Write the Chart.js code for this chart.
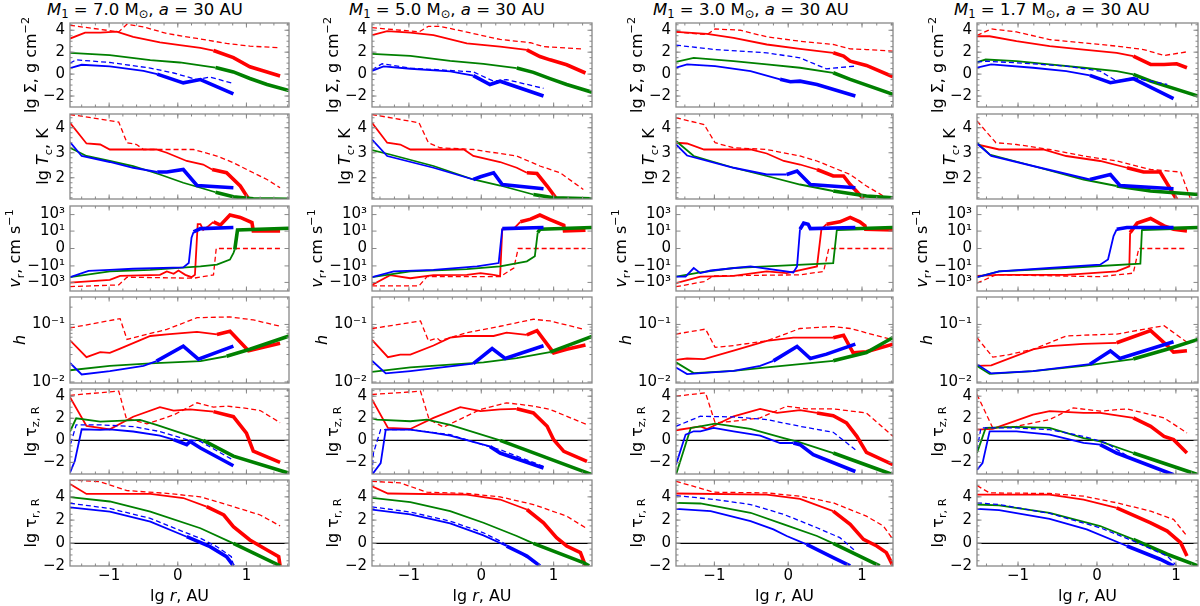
<!DOCTYPE html>
<html lang="en">

<head>
    <meta charset="UTF-8">
    <title>Disc structure, a = 30 AU</title>
    <script src="https://cdn.jsdelivr.net/npm/chart.js"></script>
    <style>
        body { margin: 0; background: #fff; }
        #fig { position: relative; width: 1200px; height: 606px; overflow: hidden; }
        #fig canvas { position: absolute; }
        .ttl {
            position: absolute; top: 1px; white-space: nowrap;
            font-family: 'DejaVu Sans', sans-serif; font-size: 16.5px; line-height: 18px; color: #000;
        }
        .ttl sub { font-size: 70%; vertical-align: -0.22em; line-height: 0; }
    </style>
</head>

<body>
    <div id="fig"></div>

    <script>
        // ---- models (one column each) ----
        const masses = ['7.0', '5.0', '3.0', '1.7'];
        const separation = 30;
        const xMin = [-1.57, -1.51, -1.52, -1.52];
        const xMax = [1.62, 1.53, 1.42, 1.28];

        // lg r where each solid curve turns thick (red per model, blue/green per panel row)
        const thickRed = [0.5, 0.6, 0.5, 0.45];
        const thickBlue = [[-0.3, -0.3, 0.25, -0.3, -0.1, 0.1], [-0.1, -0.1, 0.29, -0.1, 0.1, 0.2], [-0.1, -0.1, 0.16, -0.1, 0, 0.2], [0, 0, 0.25, 0, 0.1, 0.2]];
        const thickGreen = [[0.55, 0.55, 0.85, 0.8, 0.5, 0.7], [0.6, 0.6, 0.78, 0.75, 0.6, 0.7], [0.55, 0.55, 0.66, 0.75, 0.5, 0.6], [0.45, 0.45, 0.57, 0.65, 0.35, 0.5]];

        // tick values and labels
        const xTicks = [-1, 0, 1];
        const sigmaTicks = [-2, 0, 2, 4];
        const tcTicks = [2, 3, 4];
        const vrTicks = [-1000, -10, 0, 10, 1000];
        const vrTickLabels = ['\u221210\u00b3', '\u221210\u00b9', '0', '10\u00b9', '10\u00b3'];
        const hTicks = [0.01, 0.1];
        const hTickLabels = ['10\u207b\u00b2', '10\u207b\u00b9'];
        const tauTicks = [-2, 0, 2, 4];

        // ---- M1 = 7.0 ----
        const m70SigRedDash = [[-1.57, 4.45], [-0.86, 3.85], [-0.74, 4.55], [-0.50, 4.3], [-0.16, 3.7], [0.28, 3.25], [0.71, 2.8], [1.05, 2.55], [1.49, 2.4]];
        const m70SigRed = [[-1.57, 3.24], [-1.35, 3.79], [-1.13, 3.79], [-0.89, 3.88], [-0.65, 3.4], [-0.26, 2.9], [0.03, 2.65], [0.33, 2.4], [0.52, 2.15], [0.81, 1.5], [1.05, 0.67], [1.30, 0.2], [1.49, -0.18]];
        const m70SigGreen = [[-1.57, 1.94], [-0.99, 1.73], [-0.40, 1.27], [0.03, 1.06], [0.55, 0.6], [0.81, 0.2], [1.05, -0.4], [1.30, -0.94], [1.62, -1.5]];
        const m70SigBlueDash = [[-1.57, 1.0], [-1.48, 1.3], [-0.99, 1.06], [-0.40, 0.55], [-0.06, 0.1], [0.28, -0.5], [0.47, -0.27], [0.81, -0.86]];
        const m70SigBlue = [[-1.57, 0.55], [-1.40, 0.85], [-0.99, 0.7], [-0.50, 0.3], [-0.30, 0.0], [0.08, -0.8], [0.33, -0.5], [0.81, -1.8]];
        const m70TcRedDash = [[-1.57, 4.53], [-0.86, 4.23], [-0.74, 3.4], [-0.60, 3.33], [-0.50, 3.13], [0.23, 3.13], [0.57, 2.87], [0.81, 2.6], [1.10, 2.2], [1.30, 1.93], [1.49, 1.6]];
        const m70TcRed = [[-1.57, 4.2], [-1.33, 3.37], [-1.13, 3.33], [-0.99, 3.13], [-0.31, 3.13], [-0.16, 3.0], [0.13, 2.67], [0.37, 2.53], [0.50, 2.33], [0.71, 2.2], [0.91, 1.67], [1.03, 1.16]];
        const m70TcGreen = [[-1.57, 3.2], [-1.33, 2.87], [-0.99, 2.67], [-0.65, 2.47], [-0.26, 2.13], [0.08, 1.8], [0.33, 1.6], [0.55, 1.42], [0.81, 1.24], [1.10, 1.16], [1.62, 1.14]];
        const m70TcBlue = [[-1.57, 3.43], [-1.40, 2.87], [-0.99, 2.63], [-0.65, 2.4], [-0.30, 2.23], [-0.16, 2.23], [0.08, 2.33], [0.28, 1.69], [0.81, 1.6]];
        const m70VrRedDash = [[-1.57, -3200], [-0.86, -2000], [-0.74, -234], [0.23, -310], [0.52, -120], [0.56, 0], [1.49, 0]];
        const m70VrRed = [[-1.57, -1050], [-0.99, -490], [-0.84, -160], [-0.26, -120], [-0.16, -47], [-0.06, -91], [0.01, -36], [0.11, -120], [0.20, -234], [0.25, -120], [0.29, 68], [0.33, 68], [0.37, 14], [0.45, 43], [0.52, 132], [0.62, 52], [0.76, 870], [0.91, 450], [1.08, 110], [1.10, 10.5], [1.49, 10.5]];
        const m70VrGreen = [[-1.57, -234], [-0.99, -47], [-0.40, -30], [0.33, -11.5], [0.57, -7], [0.76, -1.7], [0.81, -0.5], [0.83, -0.1], [0.87, 14], [1.62, 22]];
        const m70VrBlue = [[-1.57, -234], [-1.30, -39], [-0.99, -30], [-0.65, -22], [0.08, -15], [0.16, -4.5], [0.20, 1.6], [0.23, 7.8], [0.33, 20], [0.81, 27]];
        const m70HRedDash = [[-1.57, 0.087], [-0.84, 0.126], [-0.74, 0.055], [-0.55, 0.063], [-0.16, 0.082], [0.28, 0.131], [0.76, 0.135], [1.10, 0.12], [1.49, 0.093]];
        const m70HRed = [[-1.57, 0.053], [-1.33, 0.027], [-1.13, 0.033], [-0.99, 0.032], [-0.84, 0.038], [-0.40, 0.063], [-0.16, 0.067], [0.28, 0.074], [0.57, 0.067], [0.76, 0.076], [1.03, 0.035], [1.49, 0.047]];
        const m70HGreen = [[-1.57, 0.016], [-0.99, 0.019], [-0.40, 0.021], [0.33, 0.023], [0.71, 0.028], [1.05, 0.037], [1.62, 0.063]];
        const m70HBlue = [[-1.57, 0.0215], [-1.40, 0.0135], [-0.99, 0.0155], [-0.50, 0.019], [-0.31, 0.023], [0.08, 0.042], [0.30, 0.025], [0.81, 0.042]];
        const m70TzRedDash = [[-1.57, 4.08], [-0.86, 4.46], [-0.75, 2.0], [-0.45, 1.49], [-0.06, 2.3], [0.28, 3.4], [0.52, 3.0], [0.71, 3.1], [1.00, 2.9], [1.20, 2.7], [1.49, 1.6]];
        const m70TzRed = [[-1.57, 3.9], [-1.33, 1.31], [-0.99, 1.0], [-0.65, 2.14], [-0.26, 3.0], [-0.06, 2.7], [0.18, 2.8], [0.52, 2.6], [0.81, 2.14], [1.00, 0.65], [1.10, -0.98], [1.49, -2.0]];
        const m70TzGreen = [[-1.57, 0.8], [-1.48, 2.0], [-1.13, 1.7], [-0.55, 1.85], [-0.31, 1.4], [0.37, 0.0], [0.81, -1.43], [1.62, -2.98]];
        const m70TzBlueDash = [[-1.56, -0.3], [-1.48, 1.4], [-1.13, 1.4], [-0.65, 1.25], [-0.26, 0.8], [0.13, 0.06], [0.33, -0.1], [0.81, -1.8]];
        const m70TzBlue = [[-1.57, -2.92], [-1.50, -1.88], [-1.40, 1.0], [-1.13, 0.95], [-0.99, 1.0], [-0.65, 0.8], [-0.26, 0.42], [-0.06, 0.06], [0.13, -0.39], [0.18, -0.1], [0.33, -0.7], [0.81, -2.3]];
        const m70TrRedDash = [[-1.57, 5.46], [-1.13, 5.3], [-0.74, 4.54], [-0.16, 4.3], [0.33, 4.0], [0.81, 3.16], [1.20, 2.44], [1.49, 1.5]];
        const m70TrRed = [[-1.57, 5.1], [-1.33, 4.25], [-0.40, 4.25], [0.08, 3.9], [0.42, 3.16], [0.67, 2.44], [0.81, 1.44], [1.05, 0.29], [1.30, -0.57], [1.47, -1.15], [1.49, -1.93]];
        const m70TrGreen = [[-1.57, 3.97], [-0.99, 3.6], [-0.40, 2.73], [0.33, 1.3], [0.81, 0], [1.49, -1.93]];
        const m70TrBlueDash = [[-1.57, 3.45], [-0.99, 3.0], [-0.40, 2.15], [0.08, 1.0], [0.33, 0.43], [0.57, -0.29], [0.78, -1.15], [0.81, -1.93]];
        const m70TrBlue = [[-1.57, 3.1], [-0.99, 2.73], [-0.40, 1.87], [0.13, 0.57], [0.47, -0.29], [0.71, -1.15], [0.81, -1.93]];

        // ---- M1 = 5.0 ----
        const m50SigRedDash = [[-1.51, 4.24], [-0.86, 3.85], [-0.73, 4.36], [-0.57, 4.36], [-0.11, 3.7], [0.26, 3.16], [0.68, 2.86], [0.86, 2.5], [1.41, 2.29]];
        const m50SigRed = [[-1.51, 3.55], [-1.30, 3.91], [-0.98, 3.79], [-0.66, 3.55], [-0.20, 2.8], [0.26, 2.5], [0.63, 2.2], [0.81, 1.6], [0.95, 1.3], [1.18, 0.85], [1.44, 0.1]];
        const m50SigGreen = [[-1.51, 1.84], [-0.98, 1.66], [-0.43, 1.2], [0.03, 0.94], [0.49, 0.55], [0.72, 0.16], [0.95, -0.41], [1.18, -0.95], [1.53, -1.65]];
        const m50SigBlueDash = [[-1.51, 0.4], [-1.37, 0.94], [-0.98, 0.55], [-0.11, 0.2], [0.17, -0.65], [0.35, -0.5], [0.86, -1.3]];
        const m50SigBlue = [[-1.51, 0.3], [-1.35, 0.7], [-0.98, 0.49], [-0.43, 0.25], [-0.11, -0.14], [0.12, -0.95], [0.26, -0.65], [0.86, -2.0]];
        const m50TcRedDash = [[-1.51, 4.53], [-0.86, 4.2], [-0.73, 3.4], [-0.57, 3.2], [-0.11, 3.13], [0.49, 2.87], [0.81, 2.47], [1.09, 2.2], [1.41, 1.53]];
        const m50TcRed = [[-1.51, 4.2], [-1.30, 3.4], [-1.12, 3.33], [-0.98, 3.13], [-0.24, 3.13], [-0.11, 2.87], [0.26, 2.63], [0.49, 2.4], [0.63, 2.2], [0.77, 2.17], [0.91, 1.67], [1.04, 1.16]];
        const m50TcGreen = [[-1.51, 3.11], [-1.26, 2.93], [-0.66, 2.47], [-0.11, 1.93], [0.26, 1.69], [0.72, 1.33], [1.00, 1.2], [1.53, 1.16]];
        const m50TcBlue = [[-1.51, 3.53], [-1.30, 2.87], [-0.66, 2.4], [-0.11, 1.93], [-0.01, 2.04], [0.17, 2.2], [0.29, 1.73], [0.86, 1.56]];
        const m50VrRedDash = [[-1.51, -2600], [-0.86, -2600], [-0.75, -200], [0.26, -200], [0.45, -18], [0.51, 0], [1.44, 0]];
        const m50VrRed = [[-1.51, -2000], [-1.26, -132], [-0.98, -310], [-0.66, -132], [-0.20, -120], [-0.01, -75], [0.17, -120], [0.26, -170], [0.29, 16.6], [0.45, 20], [0.54, 132], [0.68, 280], [0.81, 870], [0.95, 250], [1.14, 50], [1.15, 10.5], [1.44, 13]];
        const m50VrGreen = [[-1.51, -234], [-0.98, -47], [-0.20, -24], [0.26, -11.5], [0.63, -2.8], [0.74, -0.85], [0.78, 6.5], [0.81, 16.6], [1.53, 27]];
        const m50VrBlue = [[-1.51, -234], [-1.21, -47], [-0.66, -30], [-0.06, -11.5], [0.24, -4.5], [0.29, 20], [0.86, 27]];
        const m50HRedDash = [[-1.51, 0.085], [-0.84, 0.115], [-0.73, 0.052], [-0.61, 0.058], [-0.57, 0.052], [-0.20, 0.072], [0.26, 0.093], [0.72, 0.123], [0.95, 0.115], [1.41, 0.083]];
        const m50HRed = [[-1.51, 0.054], [-1.29, 0.027], [-1.12, 0.030], [-0.98, 0.030], [-0.66, 0.043], [-0.43, 0.059], [-0.24, 0.063], [0.17, 0.063], [0.35, 0.072], [0.63, 0.066], [0.77, 0.078], [1.00, 0.032], [1.18, 0.037], [1.44, 0.044]];
        const m50HGreen = [[-1.51, 0.015], [-0.98, 0.018], [-0.43, 0.020], [0.03, 0.022], [0.49, 0.026], [0.95, 0.033], [1.53, 0.062]];
        const m50HBlue = [[-1.51, 0.0234], [-1.32, 0.0141], [-0.98, 0.0155], [-0.43, 0.0186], [-0.11, 0.0209], [0.15, 0.038], [0.33, 0.0257], [0.86, 0.0427]];
        const m50TzRedDash = [[-1.51, 4.15], [-0.84, 4.45], [-0.72, 1.88], [-0.52, 1.2], [-0.01, 2.8], [0.35, 3.4], [0.72, 3.1], [0.95, 2.8], [1.46, 1.42]];
        const m50TzRed = [[-1.51, 3.7], [-1.29, 1.12], [-0.98, 1.03], [-0.66, 2.03], [-0.29, 3.0], [-0.01, 2.64], [0.26, 2.8], [0.49, 2.85], [0.72, 2.48], [0.91, 1.27], [1.00, 0.06], [1.14, -1.0], [1.46, -1.9]];
        const m50TzGreen = [[-1.51, 2.0], [-1.44, 1.88], [-0.98, 1.73], [-0.75, 1.88], [-0.43, 1.4], [0.26, 0], [1.53, -3.1]];
        const m50TzBlueDash = [[-1.51, -2.97], [-1.49, -1.15], [-1.39, 0.97], [-0.98, 0.97], [-0.43, 0.52], [-0.06, -0.24], [0.26, -0.85], [0.86, -2.36]];
        const m50TzBlue = [[-1.51, -3.12], [-1.39, -2.06], [-1.32, 0.97], [-0.98, 0.97], [-0.66, 0.67], [-0.43, 0.42], [-0.06, -0.24], [0.12, -0.55], [0.26, -1.15], [0.86, -2.5]];
        const m50TrRedDash = [[-1.51, 5.34], [-1.12, 5.2], [-0.75, 4.4], [-0.20, 4.29], [0.26, 4.0], [0.72, 3.34], [1.18, 2.34], [1.44, 1.34]];
        const m50TrRed = [[-1.51, 4.91], [-1.29, 4.29], [-0.20, 4.2], [0.26, 3.77], [0.63, 2.91], [0.86, 1.77], [1.04, 0.49], [1.18, -0.23], [1.37, -0.8], [1.44, -1.94]];
        const m50TrGreen = [[-1.51, 3.91], [-0.98, 3.54], [-0.43, 2.77], [0.03, 1.77], [0.49, 0.63], [0.72, 0], [1.41, -1.66], [1.49, -1.94]];
        const m50TrBlueDash = [[-1.51, 3.14], [-0.98, 2.69], [-0.43, 1.91], [0.03, 0.91], [0.26, 0.2], [0.49, -0.66], [0.81, -1.94]];
        const m50TrBlue = [[-1.51, 2.91], [-0.98, 2.49], [-0.43, 1.71], [0.03, 0.69], [0.35, -0.23], [0.63, -1.09], [0.81, -1.94]];

        // ---- M1 = 3.0 ----
        const m30SigRedDash = [[-1.52, 3.85], [-1.10, 3.6], [-0.99, 4.12], [-0.65, 4.0], [-0.29, 3.4], [0.16, 3.0], [0.61, 2.7], [0.84, 2.3], [1.06, 2.24], [1.42, 2.1]];
        const m30SigRed = [[-1.52, 3.85], [-1.10, 3.67], [-0.74, 3.3], [-0.29, 2.7], [0.16, 2.3], [0.61, 1.94], [0.75, 1.64], [0.84, 1.18], [1.06, 0.79], [1.42, -0.24]];
        const m30SigGreen = [[-1.52, 1.12], [-1.28, 1.48], [-0.74, 1.18], [-0.29, 0.88], [0.16, 0.58], [0.61, 0.12], [0.84, -0.48], [1.42, -1.85]];
        const m30SigBlueDash = [[-1.52, 2.64], [-0.99, 2.24], [-0.29, 1.94], [0.16, 1.48], [0.34, 0.97], [0.52, 0.48], [0.91, 0.73]];
        const m30SigBlue = [[-1.52, 0.58], [-1.37, 0.88], [-0.99, 0.73], [-0.51, 0.27], [-0.11, -0.48], [0.03, -0.7], [0.16, -0.64], [0.39, -0.94], [0.91, -2.0]];
        const m30TcRedDash = [[-1.52, 4.4], [-1.14, 4.13], [-0.99, 3.4], [-0.74, 3.2], [-0.29, 3.13], [0.16, 2.87], [0.39, 2.67], [0.84, 2.13], [1.06, 1.67], [1.29, 1.27], [1.38, 1.16]];
        const m30TcRed = [[-1.52, 3.4], [-1.37, 3.37], [-1.14, 3.13], [-0.51, 3.13], [-0.29, 2.97], [-0.06, 2.67], [0.16, 2.53], [0.39, 2.33], [0.61, 2.07], [0.75, 2.07], [0.84, 1.73], [1.02, 1.16]];
        const m30TcGreen = [[-1.52, 3.47], [-1.28, 2.87], [-0.74, 2.4], [-0.29, 2.07], [0.16, 1.73], [0.61, 1.47], [1.06, 1.27], [1.42, 1.2]];
        const m30TcBlue = [[-1.52, 3.33], [-1.37, 2.89], [-0.74, 2.4], [-0.29, 2.13], [-0.02, 2.13], [0.12, 2.27], [0.30, 1.73], [0.91, 1.6]];
        const m30VrRedDash = [[-1.52, -3300], [-1.14, -800], [-1.01, -160], [0.16, -120], [0.48, -47], [0.55, 0], [1.42, 0]];
        const m30VrRed = [[-1.52, -1250], [-1.19, -200], [-0.74, -160], [-0.29, -47], [-0.02, -75], [0.39, -11.5], [0.45, 16.6], [0.52, 68], [0.70, 132], [0.84, 450], [0.97, 132], [1.04, 43], [1.05, 16.6], [1.42, 14]];
        const m30VrGreen = [[-1.52, -200], [-1.19, -62], [-0.74, -18], [-0.29, -11.5], [0.61, -4.5], [0.66, 16.6], [1.42, 27]];
        const m30VrBlue = [[-1.52, -200], [-1.39, -200], [-1.28, -18], [-1.19, -75], [-1.05, -36], [-0.51, -11.5], [0.07, -62], [0.12, -11.5], [0.16, 16.6], [0.21, 92], [0.27, 68], [0.30, 20], [0.91, 27]];
        const m30HRedDash = [[-1.52, 0.068], [-1.12, 0.083], [-0.99, 0.040], [-0.74, 0.043], [-0.29, 0.052], [0.16, 0.085], [0.61, 0.092], [0.84, 0.085], [1.42, 0.054]];
        const m30HRed = [[-1.52, 0.0243], [-1.37, 0.0256], [-1.14, 0.025], [-0.74, 0.035], [-0.29, 0.052], [0.07, 0.059], [0.61, 0.059], [0.75, 0.065], [0.88, 0.032], [1.06, 0.0335], [1.42, 0.0455]];
        const m30HGreen = [[-1.52, 0.0219], [-1.28, 0.0143], [-0.74, 0.0156], [-0.29, 0.0179], [0.16, 0.0204], [0.61, 0.0233], [1.06, 0.0326], [1.42, 0.0594]];
        const m30HBlue = [[-1.52, 0.0179], [-1.37, 0.0137], [-0.74, 0.0156], [-0.38, 0.019], [-0.20, 0.0233], [0.12, 0.0415], [0.30, 0.0256], [0.52, 0.0305], [0.91, 0.0455]];
        const m30TzRedDash = [[-1.52, 4.0], [-1.12, 4.3], [-0.99, 1.58], [-0.74, 1.73], [-0.38, 2.03], [-0.02, 3.09], [0.25, 2.85], [0.61, 2.85], [1.06, 2.48], [1.42, 0.36]];
        const m30TzRed = [[-1.52, 0.91], [-1.19, 1.27], [-1.10, 1.03], [-0.74, 2.18], [-0.38, 2.85], [-0.15, 2.48], [0.16, 2.73], [0.39, 2.48], [0.61, 2.24], [0.79, 1.58], [0.93, 0.36], [1.06, -1.09], [1.42, -2.21]];
        const m30TzGreen = [[-1.52, -3.12], [-1.32, 1.12], [-1.19, 1.27], [-0.99, 1.52], [-0.74, 1.27], [-0.51, 1.03], [-0.06, 0.21], [0.16, -0.18], [0.61, -1.15], [1.42, -3.12]];
        const m30TzBlueDash = [[-1.52, 1.27], [-1.19, 2.18], [-0.74, 2.12], [-0.29, 1.88], [0.16, 1.27], [0.61, 0.73], [0.91, -0.85]];
        const m30TzBlue = [[-1.52, -2.21], [-1.39, 0.52], [-1.28, 0.82], [-1.19, 0.82], [-1.01, 1.12], [-0.74, 0.82], [-0.38, 0.42], [-0.11, -0.24], [0.07, -0.24], [0.16, -0.39], [0.34, -1.3], [0.91, -2.82]];
        const m30TrRedDash = [[-1.52, 5.34], [-1.01, 4.4], [-0.29, 4.34], [0.16, 4.06], [0.61, 3.49], [1.06, 2.34], [1.29, 1.49], [1.42, 0.34]];
        const m30TrRed = [[-1.52, 4.29], [-0.29, 4.2], [0.16, 3.83], [0.61, 2.77], [0.84, 1.63], [1.02, 0.34], [1.20, -0.23], [1.33, -0.8], [1.42, -1.94]];
        const m30TrGreen = [[-1.52, 3.49], [-1.19, 3.43], [-0.51, 2.63], [-0.06, 1.63], [0.39, 0.63], [0.61, 0], [1.24, -1.94]];
        const m30TrBlueDash = [[-1.52, 4.11], [-0.99, 3.77], [-0.51, 3.34], [-0.06, 2.49], [0.39, 1.34], [0.70, 0.49], [0.91, -0.66]];
        const m30TrBlue = [[-1.52, 2.97], [-1.05, 2.77], [-0.51, 1.91], [-0.20, 1.2], [-0.02, 0.63], [0.25, -0.09], [0.61, -1.23], [0.84, -1.94]];

        // ---- M1 = 1.7 ----
        const m17SigRedDash = [[-1.52, 3.52], [-1.34, 4.12], [-1.02, 3.85], [-0.60, 3.15], [-0.17, 2.85], [0.25, 2.55], [0.59, 2.24], [0.85, 1.7], [1.14, 2.03]];
        const m17SigRed = [[-1.52, 3.45], [-1.36, 3.45], [-1.02, 3.0], [-0.60, 2.55], [-0.17, 2.24], [0.25, 1.94], [0.46, 1.64], [0.68, 0.88], [0.85, 0.88], [1.01, 0.94], [1.14, 0.58]];
        const m17SigGreen = [[-1.52, 1.09], [-1.41, 1.33], [-1.02, 1.18], [-0.60, 0.88], [-0.17, 0.58], [0.25, 0.27], [0.46, -0.03], [0.68, -0.64], [1.28, -2.0]];
        const m17SigBlueDash = [[-1.52, 1.09], [-1.41, 1.18], [-1.02, 1.03], [-0.39, 0.73], [0.04, 0.27], [0.25, -0.64], [0.46, -0.33], [0.89, -0.94]];
        const m17SigBlue = [[-1.52, 0.58], [-1.34, 0.88], [-0.81, 0.58], [-0.39, 0.27], [-0.09, -0.12], [0.17, -0.79], [0.46, -0.42], [0.97, -2.24]];
        const m17TcRedDash = [[-1.52, 4.27], [-1.28, 3.4], [-1.02, 3.33], [-0.60, 3.13], [-0.17, 2.87], [0.25, 2.67], [0.68, 2.33], [1.06, 2.23], [1.18, 1.2]];
        const m17TcRed = [[-1.52, 3.33], [-1.24, 3.13], [-0.68, 3.13], [-0.39, 2.87], [0.04, 2.67], [0.38, 2.4], [0.59, 2.23], [0.80, 2.23], [1.01, 1.13]];
        const m17TcGreen = [[-1.52, 3.4], [-1.36, 2.93], [-0.81, 2.47], [-0.17, 1.93], [0.25, 1.67], [0.68, 1.47], [1.28, 1.33]];
        const m17TcBlue = [[-1.52, 3.37], [-1.34, 2.87], [-0.81, 2.47], [-0.09, 1.93], [0.17, 2.13], [0.29, 1.69], [0.97, 1.56]];
        const m17VrRedDash = [[-1.52, -1250], [-1.28, -120], [0.04, -200], [0.46, -75], [0.53, 0], [1.14, 0]];
        const m17VrRed = [[-1.52, -160], [-1.24, -120], [-0.39, -120], [0.25, -47], [0.41, -11.5], [0.42, 6.5], [0.51, 92], [0.68, 340], [0.85, 43], [0.97, 16.6], [1.14, 10.5]];
        const m17VrGreen = [[-1.52, -234], [-1.24, -47], [-0.39, -18], [0.55, -5.4], [0.57, 16.6], [1.28, 27]];
        const m17VrBlue = [[-1.52, -234], [-1.24, -47], [-0.60, -18], [0.04, -7], [0.14, -1.7], [0.21, 2.5], [0.25, 16.6], [0.38, 27], [0.97, 27]];
        const m17HRedDash = [[-1.52, 0.059], [-1.32, 0.027], [-1.11, 0.030], [-0.81, 0.037], [-0.39, 0.063], [-0.17, 0.065], [0.25, 0.068], [0.85, 0.095], [1.14, 0.049]];
        const m17HRed = [[-1.52, 0.019], [-1.34, 0.0195], [-0.81, 0.037], [-0.60, 0.042], [-0.17, 0.046], [0.25, 0.048], [0.68, 0.078], [0.89, 0.043], [0.97, 0.033], [1.14, 0.035]];
        const m17HGreen = [[-1.52, 0.019], [-1.36, 0.0138], [-0.81, 0.0155], [-0.17, 0.019], [0.46, 0.025], [0.89, 0.037], [1.28, 0.055]];
        const m17HBlue = [[-1.52, 0.0204], [-1.34, 0.0141], [-0.81, 0.0155], [-0.09, 0.0204], [0.17, 0.0347], [0.29, 0.0257], [0.97, 0.050]];
        const m17TzRedDash = [[-1.52, 4.15], [-1.32, 1.12], [-1.02, 1.27], [-0.60, 1.88], [-0.30, 2.94], [0.04, 2.64], [0.38, 2.85], [0.85, 2.03], [1.14, 0.67]];
        const m17TzRed = [[-1.52, 0.97], [-1.32, 1.03], [-0.81, 2.33], [-0.60, 2.64], [-0.17, 2.48], [0.04, 2.48], [0.46, 2.03], [0.68, 1.27], [0.85, 0.36], [0.97, 0.06], [1.14, -1.15]];
        const m17TzGreen = [[-1.52, -1.15], [-1.41, 1.12], [-1.02, 1.21], [-0.60, 1.12], [-0.17, 0.21], [0.04, -0.09], [0.46, -1.15], [1.28, -3.12]];
        const m17TzBlueDash = [[-1.52, -0.85], [-1.47, 1.12], [-1.02, 1.12], [-0.60, 0.97], [-0.17, 0.36], [0.12, -0.24], [0.46, -1.76]];
        const m17TzBlue = [[-1.52, -2.67], [-1.45, -2.06], [-1.36, 0.82], [-1.02, 0.82], [-0.60, 0.52], [-0.17, -0.24], [0.04, -0.39], [0.25, -1.15], [0.97, -3.12]];
        const m17TrRedDash = [[-1.52, 4.97], [-1.36, 4.34], [-0.60, 4.29], [-0.17, 4.06], [0.25, 3.49], [0.68, 2.77], [0.97, 2.06], [1.14, 0.63]];
        const m17TrRed = [[-1.52, 4.2], [-0.60, 4.2], [-0.17, 3.77], [0.25, 3.06], [0.68, 1.77], [0.89, 1.06], [1.06, 0.06], [1.14, -1.09]];
        const m17TrGreen = [[-1.52, 3.34], [-1.24, 3.26], [-0.60, 2.63], [0.04, 1.49], [0.46, 0.34], [0.89, -0.94], [1.28, -1.94]];
        const m17TrBlueDash = [[-1.52, 3.49], [-1.24, 3.34], [-0.60, 2.57], [0.04, 1.34], [0.46, 0.2], [0.89, -1.09], [1.01, -1.94]];
        const m17TrBlue = [[-1.52, 2.97], [-1.24, 2.86], [-0.60, 2.11], [-0.13, 1.2], [0.38, -0.23], [0.80, -1.37], [0.97, -1.94]];

        // rows: [red dashed, red, green, blue dashed, blue]
        const models = [
            [[m70SigRedDash, m70SigRed, m70SigGreen, m70SigBlueDash, m70SigBlue],
            [m70TcRedDash, m70TcRed, m70TcGreen, null, m70TcBlue],
            [m70VrRedDash, m70VrRed, m70VrGreen, null, m70VrBlue],
            [m70HRedDash, m70HRed, m70HGreen, null, m70HBlue],
            [m70TzRedDash, m70TzRed, m70TzGreen, m70TzBlueDash, m70TzBlue],
            [m70TrRedDash, m70TrRed, m70TrGreen, m70TrBlueDash, m70TrBlue]],
            [[m50SigRedDash, m50SigRed, m50SigGreen, m50SigBlueDash, m50SigBlue],
            [m50TcRedDash, m50TcRed, m50TcGreen, null, m50TcBlue],
            [m50VrRedDash, m50VrRed, m50VrGreen, null, m50VrBlue],
            [m50HRedDash, m50HRed, m50HGreen, null, m50HBlue],
            [m50TzRedDash, m50TzRed, m50TzGreen, m50TzBlueDash, m50TzBlue],
            [m50TrRedDash, m50TrRed, m50TrGreen, m50TrBlueDash, m50TrBlue]],
            [[m30SigRedDash, m30SigRed, m30SigGreen, m30SigBlueDash, m30SigBlue],
            [m30TcRedDash, m30TcRed, m30TcGreen, null, m30TcBlue],
            [m30VrRedDash, m30VrRed, m30VrGreen, null, m30VrBlue],
            [m30HRedDash, m30HRed, m30HGreen, null, m30HBlue],
            [m30TzRedDash, m30TzRed, m30TzGreen, m30TzBlueDash, m30TzBlue],
            [m30TrRedDash, m30TrRed, m30TrGreen, m30TrBlueDash, m30TrBlue]],
            [[m17SigRedDash, m17SigRed, m17SigGreen, m17SigBlueDash, m17SigBlue],
            [m17TcRedDash, m17TcRed, m17TcGreen, null, m17TcBlue],
            [m17VrRedDash, m17VrRed, m17VrGreen, null, m17VrBlue],
            [m17HRedDash, m17HRed, m17HGreen, null, m17HBlue],
            [m17TzRedDash, m17TzRed, m17TzGreen, m17TzBlueDash, m17TzBlue],
            [m17TrRedDash, m17TrRed, m17TrGreen, m17TrBlueDash, m17TrBlue]]
        ];

        // ---- layout ----
        const plotLeft = [70, 372, 676, 977];
        const plotRight = [289, 592, 893, 1198];
        const rowTop = [23, 114, 206, 297, 389, 480];
        const rowBottom = [107, 199, 291, 383, 474, 566];
        const FONT = "'DejaVu Sans', sans-serif";
        const TICK_SIZE = 15;
        const LABEL_SIZE = 16;
        const RED = '#ff0000', GREEN = '#008000', BLUE = '#0000ff', FRAME = '#888888';

        // symmetric-log transform for v_r (linear inside |v| < 1)
        const LINSCALE = 1.11;
        function symlog(v) {
            const a = Math.abs(v);
            return a <= 1 ? v * LINSCALE : Math.sign(v) * (LINSCALE + Math.log10(a));
        }

        function fmtNum(v) {
            return v < 0 ? '\u2212' + Math.abs(v) : String(v);
        }

        const rowStyle = [
            { min: -3, max: 4.66, ticks: sigmaTicks, labels: sigmaTicks.map(fmtNum), minor: 0.5 },
            { min: 1.15, max: 4.55, ticks: tcTicks, labels: tcTicks.map(fmtNum), minor: 0.2 },
            { min: -5.15, max: 5.15, ticks: vrTicks.map(symlog), labels: vrTickLabels, minor: null, sym: true },
            { min: 0.0096, max: 0.3, ticks: hTicks, labels: hTickLabels, log: true },
            { min: -3.05, max: 4.65, ticks: tauTicks, labels: tauTicks.map(fmtNum), minor: 0.5, zero: true },
            { min: -1.95, max: 5.45, ticks: tauTicks, labels: tauTicks.map(fmtNum), minor: 0.5, zero: true }
        ];

        const yTitles = [
            [{ t: 'lg \u03a3, g cm' }, { t: '\u22122', s: 'sup' }],
            [{ t: 'lg ' }, { t: 'T', it: true }, { t: 'c', s: 'sub' }, { t: ', K' }],
            [{ t: 'v', it: true }, { t: 'r', s: 'sub' }, { t: ', cm s' }, { t: '\u22121', s: 'sup' }],
            [{ t: 'h', it: true }],
            [{ t: 'lg \u03c4' }, { t: 'z, R', s: 'sub' }],
            [{ t: 'lg \u03c4' }, { t: 'r, R', s: 'sub' }]
        ];
        const xLabelRuns = [{ t: 'lg ' }, { t: 'r', it: true }, { t: ', AU' }];

        function runFont(r, fs) {
            const size = r.s ? fs * 0.7 : fs;
            return (r.it ? 'italic ' : '') + size + 'px ' + FONT;
        }

        // draws mixed italic / sub / sup text centred on (x, y)
        function drawRich(ctx, runs, x, y, fs, vertical) {
            ctx.save();
            ctx.translate(x, y);
            if (vertical) ctx.rotate(-Math.PI / 2);
            let w = 0;
            runs.forEach(r => { ctx.font = runFont(r, fs); w += ctx.measureText(r.t).width; });
            let cx = -w / 2;
            ctx.textAlign = 'left';
            ctx.textBaseline = 'alphabetic';
            ctx.fillStyle = '#000';
            const base = fs * 0.36;
            runs.forEach(r => {
                ctx.font = runFont(r, fs);
                const dy = r.s === 'sub' ? fs * 0.22 : r.s === 'sup' ? -fs * 0.42 : 0;
                ctx.fillText(r.t, cx, base + dy);
                cx += ctx.measureText(r.t).width;
            });
            ctx.restore();
        }

        function stepValues(min, max, step) {
            const out = [];
            for (let k = Math.ceil(min / step - 1e-9); k * step <= max + 1e-9; k++) out.push(+(k * step).toFixed(6));
            return out;
        }

        function logMinor(min, max) {
            const out = [];
            for (let e = -3; e <= 0; e++) {
                for (let m = 2; m <= 9; m++) {
                    const v = m * Math.pow(10, e);
                    if (v > min && v < max) out.push(v);
                }
            }
            return out;
        }

        function tickMarks(ctx, a, scale, values, horizontal, len) {
            ctx.beginPath();
            values.forEach(v => {
                const p = scale.getPixelForValue(v);
                if (horizontal) {
                    if (p < a.left + 1 || p > a.right - 1) return;
                    ctx.moveTo(p, a.bottom); ctx.lineTo(p, a.bottom - len);
                    ctx.moveTo(p, a.top); ctx.lineTo(p, a.top + len);
                } else {
                    if (p < a.top + 1 || p > a.bottom - 1) return;
                    ctx.moveTo(a.left, p); ctx.lineTo(a.left + len, p);
                    ctx.moveTo(a.right, p); ctx.lineTo(a.right - len, p);
                }
            });
            ctx.stroke();
        }

        const framePlugin = {
            id: 'frame',
            beforeDatasetsDraw(chart) {
                const row = chart.options.plugins.frame.row;
                if (!rowStyle[row].zero) return;
                const { ctx, chartArea: a, scales: { y } } = chart;
                const p = y.getPixelForValue(0);
                ctx.save();
                ctx.strokeStyle = '#000';
                ctx.lineWidth = 1.3;
                ctx.beginPath();
                ctx.moveTo(a.left, p);
                ctx.lineTo(a.right, p);
                ctx.stroke();
                ctx.restore();
            },
            afterDraw(chart) {
                const { col, row } = chart.options.plugins.frame;
                const { ctx, chartArea: a, scales: { x, y } } = chart;
                const rs = rowStyle[row];
                ctx.save();
                ctx.strokeStyle = FRAME;
                ctx.lineWidth = 1;
                tickMarks(ctx, a, x, stepValues(xMin[col], xMax[col], 0.2), true, 2.5);
                tickMarks(ctx, a, x, xTicks, true, 4.5);
                if (rs.log) tickMarks(ctx, a, y, logMinor(rs.min, rs.max), false, 2.5);
                else if (rs.minor) tickMarks(ctx, a, y, stepValues(rs.min, rs.max, rs.minor), false, 2.5);
                tickMarks(ctx, a, y, rs.ticks, false, 4.5);
                ctx.lineWidth = 1.3;
                ctx.strokeRect(a.left, a.top, a.right - a.left, a.bottom - a.top);
                ctx.restore();

                ctx.save();
                ctx.font = TICK_SIZE + 'px ' + FONT;
                const lw = Math.max(...rs.labels.map(l => ctx.measureText(l).width));
                ctx.restore();
                drawRich(ctx, yTitles[row], a.left - 5 - lw - 13, (a.top + a.bottom) / 2, LABEL_SIZE, true);
                if (row === 5) drawRich(ctx, xLabelRuns, (a.left + a.right) / 2, a.bottom + 29, LABEL_SIZE, false);
            }
        };

        function makeSeries(points, color, dashed, thick, transform) {
            const ds = {
                data: points.map(p => ({ x: p[0], y: transform ? transform(p[1]) : p[1] })),
                borderColor: color,
                borderWidth: dashed ? 1.3 : 1.8,
                borderDash: dashed ? [5, 3] : [],
                pointRadius: 0,
                tension: 0,
                fill: false
            };
            if (thick != null) {
                ds.segment = {
                    borderWidth: s => ((s.p0.parsed.x + s.p1.parsed.x) / 2 >= thick ? 3.6 : 1.8)
                };
            }
            return ds;
        }

        const fig = document.getElementById('fig');

        // column titles as text elements
        masses.forEach((m, c) => {
            const t = document.createElement('div');
            t.className = 'ttl';
            t.style.left = (plotLeft[c] - 23) + 'px';
            t.innerHTML = '<i>M</i><sub>1</sub> = ' + m + ' M<sub>\u2299</sub>, <i>a</i> = ' + separation + ' AU';
            fig.appendChild(t);
        });

        function makePanel(c, r) {
            const rs = rowStyle[r];
            const set = models[c][r];
            const tf = rs.sym ? symlog : null;
            const padTop = 16;
            const padBottom = r === 5 ? 40 : 16;
            const padLeft = 70, padRight = 2;
            const w = plotRight[c] - plotLeft[c];
            const h = rowBottom[r] - rowTop[r];

            const canvas = document.createElement('canvas');
            canvas.width = padLeft + w + padRight;
            canvas.height = padTop + h + padBottom;
            canvas.style.left = (plotLeft[c] - padLeft) + 'px';
            canvas.style.top = (rowTop[r] - padTop) + 'px';
            fig.appendChild(canvas);

            // first dataset ends up on top
            const datasets = [];
            if (set[4]) datasets.push(makeSeries(set[4], BLUE, false, thickBlue[c][r], tf));
            if (set[3]) datasets.push(makeSeries(set[3], BLUE, true, null, tf));
            if (set[2]) datasets.push(makeSeries(set[2], GREEN, false, thickGreen[c][r], tf));
            if (set[1]) datasets.push(makeSeries(set[1], RED, false, thickRed[c], tf));
            if (set[0]) datasets.push(makeSeries(set[0], RED, true, null, tf));

            new Chart(canvas, {
                type: 'line',
                data: { datasets },
                options: {
                    responsive: false,
                    animation: false,
                    events: [],
                    layout: { padding: { top: padTop, right: padRight, left: 0, bottom: 0 } },
                    plugins: {
                        legend: { display: false },
                        tooltip: { enabled: false },
                        frame: { col: c, row: r }
                    },
                    scales: {
                        x: {
                            type: 'linear',
                            min: xMin[c],
                            max: xMax[c],
                            grid: { display: false, drawTicks: false },
                            border: { display: false },
                            ticks: {
                                display: r === 5,
                                padding: 1,
                                color: '#000',
                                font: { family: FONT, size: TICK_SIZE },
                                callback: v => fmtNum(v)
                            },
                            afterBuildTicks: s => { s.ticks = xTicks.map(v => ({ value: v })); },
                            afterFit: s => { s.height = padBottom; }
                        },
                        y: {
                            type: rs.log ? 'logarithmic' : 'linear',
                            min: rs.min,
                            max: rs.max,
                            grid: { display: false, drawTicks: false },
                            border: { display: false },
                            ticks: {
                                padding: 5,
                                autoSkip: false,
                                color: '#000',
                                font: { family: FONT, size: TICK_SIZE },
                                callback: (v, i) => rs.labels[i]
                            },
                            afterBuildTicks: s => { s.ticks = rs.ticks.map(v => ({ value: v })); },
                            afterFit: s => { s.width = padLeft; }
                        }
                    }
                },
                plugins: [framePlugin]
            });
        }

        for (let c = 0; c < 4; c++) {
            for (let r = 0; r < 6; r++) makePanel(c, r);
        }
    </script>
</body>

</html>
